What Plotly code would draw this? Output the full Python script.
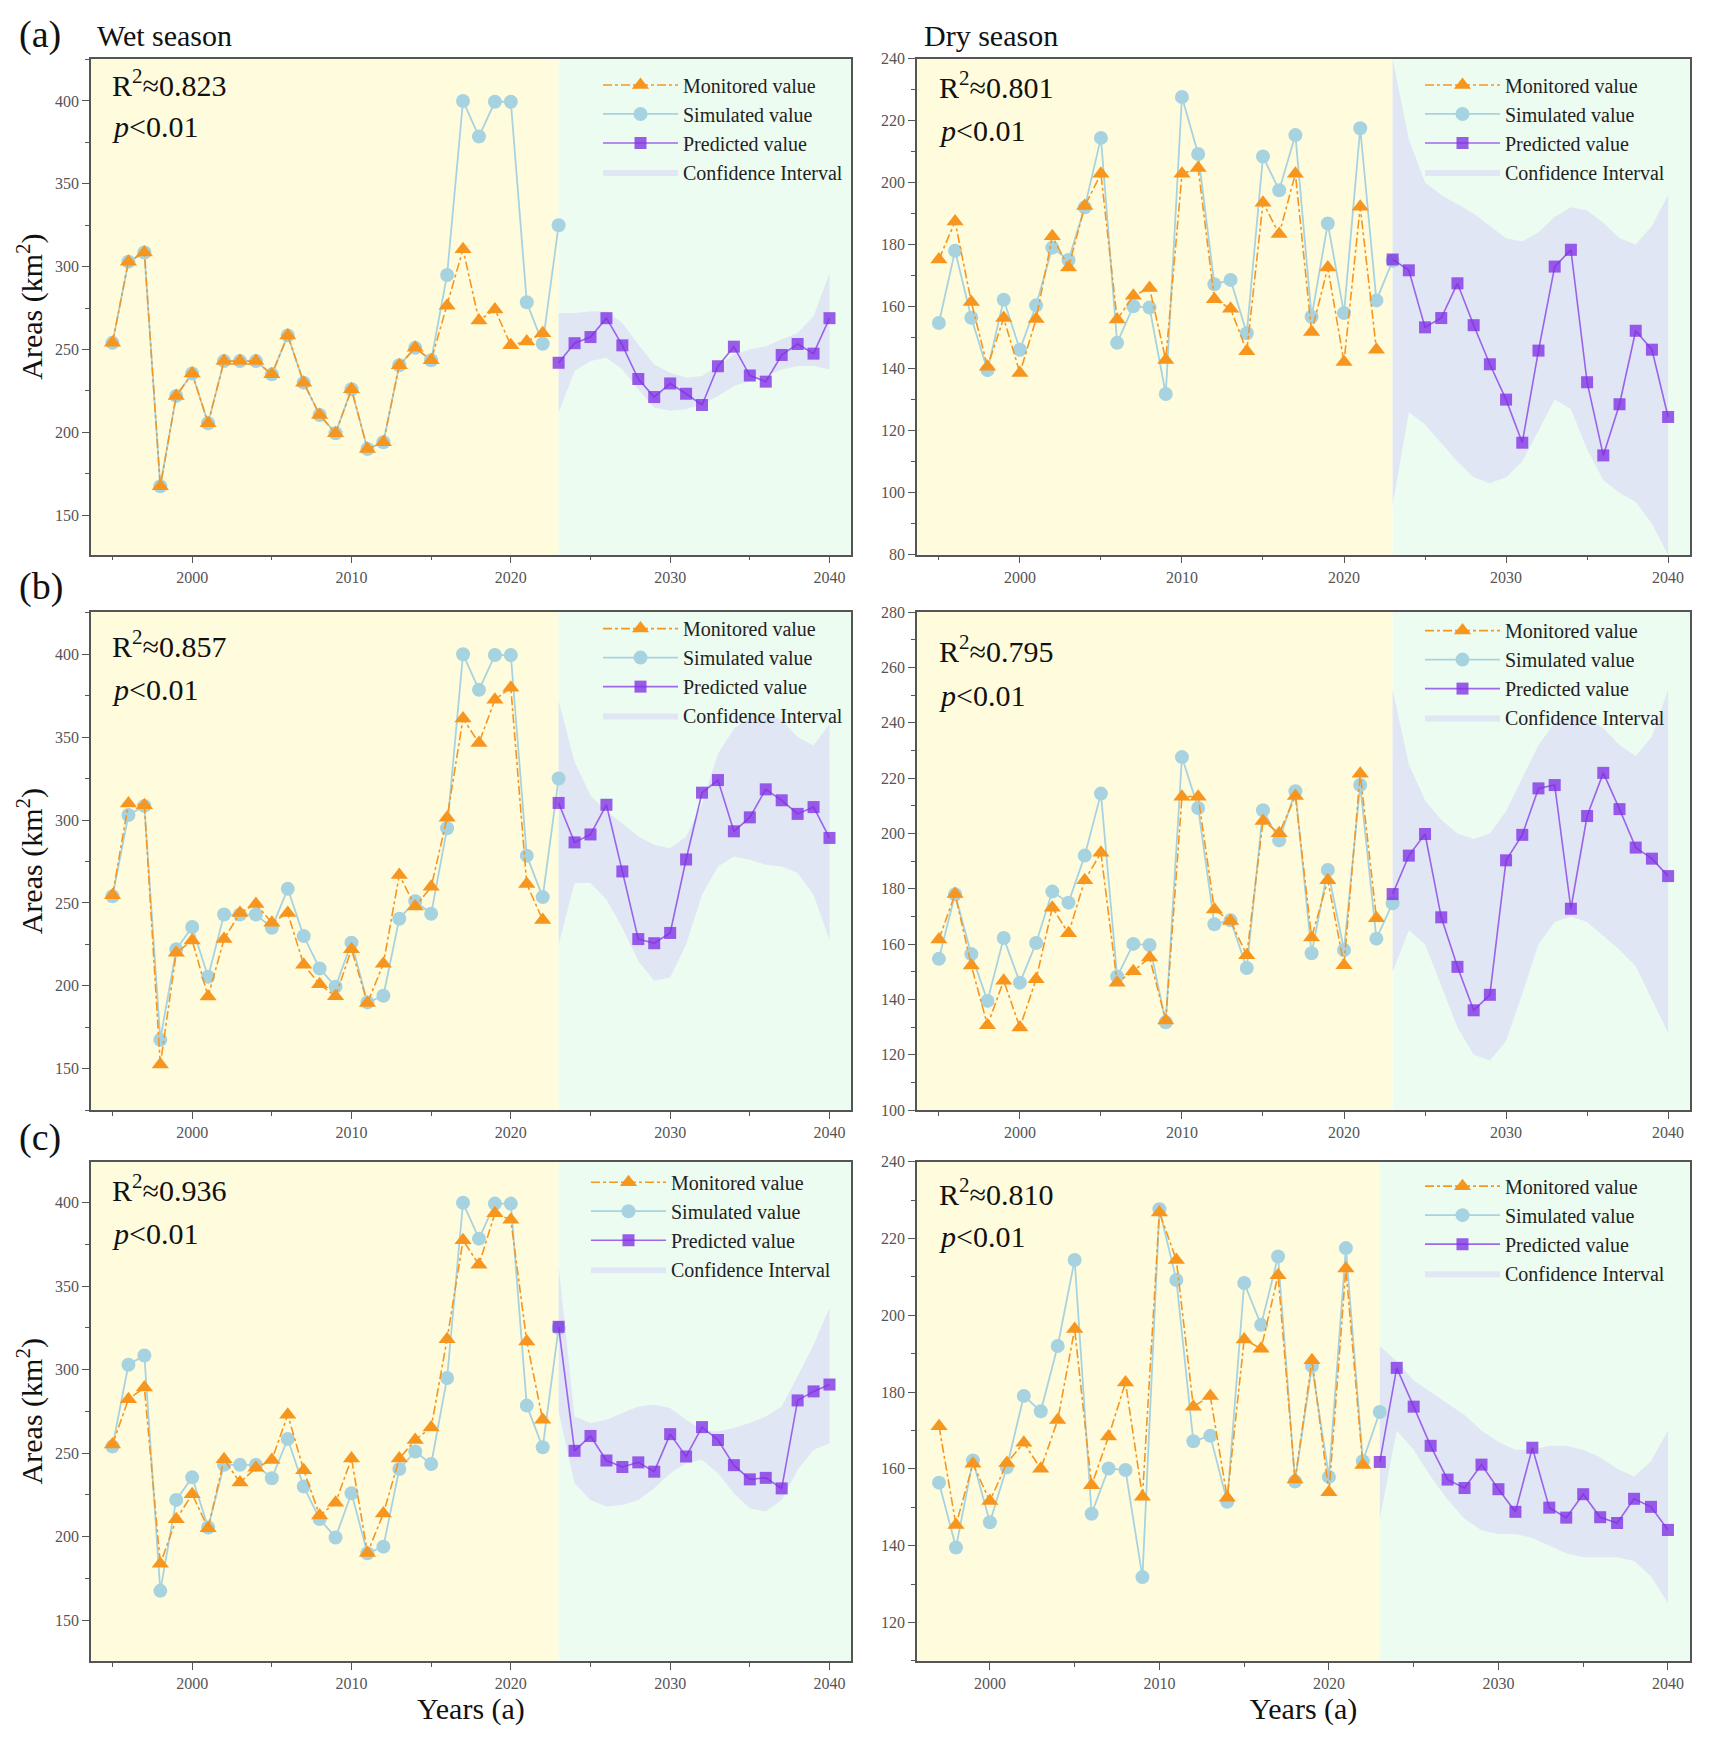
import plotly.graph_objects as go

W, H = 1711, 1753

# ---------------- data ----------------
years_hist = list(range(1995, 2024))          # simulated (1995-2023)
years_mon = list(range(1995, 2023))           # monitored (1995-2022)
years_pred = list(range(2023, 2041))          # predicted (2023-2040)
years_mon_c_dry = list(range(1997, 2023))
years_sim_c_dry = list(range(1997, 2024))

x_tick_vals = [2000, 2010, 2020, 2030, 2040]
x_tick_text = ["2000", "2010", "2020", "2030", "2040"]
wet_tick_vals = [150, 200, 250, 300, 350, 400]
dry_tick_vals_a = [80, 100, 120, 140, 160, 180, 200, 220, 240]
dry_tick_vals_b = [100, 120, 140, 160, 180, 200, 220, 240, 260, 280]
dry_tick_vals_c = [120, 140, 160, 180, 200, 220, 240]

wet_simulated = [254, 303, 308.5, 167.5, 222, 235.5, 205.5, 243, 243, 243, 235, 258.5, 230, 210.5,
                 199.5, 226, 190, 194, 240.5, 251, 243.5, 295, 400, 378.5, 399.5, 399.5, 278.5, 253.5, 325]
dry_simulated = [154.7, 178, 156.4, 139.5, 162.2, 146.1, 160.4, 179, 175, 192, 214.4, 148.3, 160.1, 159.7,
                 131.8, 227.6, 209.2, 167.2, 168.6, 151.4, 208.4, 197.5, 215.3, 156.7, 186.8, 157.9, 217.5, 162, 174.8]

wet_monitored_a = [254, 303, 308.5, 167.5, 222, 235.5, 205.5, 243, 243, 243, 235, 258.5, 230, 210.5,
                   199.5, 226, 190, 194, 240.5, 251, 243.5, 276.4, 310.5, 267.5, 274.2, 252.6, 254.9, 259.8]
wet_monitored_b = [254.6, 309.9, 308.9, 152.5, 219.9, 227.4, 193.5, 228.2, 243.9, 249.4, 238.1, 243.9, 212.7, 201,
                   193.7, 222, 189.6, 213.3, 266.9, 247.8, 259.7, 301.4, 361.2, 346.4, 372.6, 379.8, 261.4, 239.7]
wet_monitored_c = [255.2, 282.3, 289.3, 183.7, 210.4, 225.4, 205, 246.3, 232.4, 241.2, 245.9, 273, 239.8, 212.7,
                   220.3, 246.8, 190.2, 213.8, 246.8, 257.9, 265.4, 318.3, 377.5, 362.9, 393.7, 389.8, 316.9, 270]
dry_monitored_a = [175.2, 187.4, 161.5, 140.6, 156.3, 138.6, 156, 182.7, 172.6, 192.4, 202.8, 155.8, 163.5, 166,
                   142.8, 202.8, 204.7, 162.4, 159.3, 145.6, 193.5, 183.4, 202.8, 151.8, 172.6, 142.1, 192.2, 146.1]
dry_monitored_b = [161.7, 178.1, 152.3, 130.7, 146.8, 129.9, 147.3, 173.2, 163.9, 183.1, 193, 146.1, 150.2, 155.2,
                   132.4, 213.3, 213.3, 172.5, 168.4, 156, 204.5, 200.1, 213.5, 162.4, 183.1, 152.4, 221.6, 169.4]
dry_monitored_c = [171.1, 145.4, 161.3, 151.6, 161.5, 166.8, 160, 172.7, 196.4, 155.7, 168.4, 182.5, 152.7,
                   226.8, 214.4, 176.2, 179, 152.5, 193.7, 191.3, 210.4, 157.2, 188.3, 153.9, 212.2, 161]

wet_predicted_a = [242, 253.8, 257.5, 268.9, 252.5, 232.2, 221.3, 229.5, 223.3, 216.5, 239.9, 251.7, 234.3,
                   230.6, 246.7, 253.3, 247.5, 268.9]
wet_predicted_b = [310.3, 286.5, 291.3, 309.2, 269, 228.2, 225.7, 231.9, 276.2, 316.5, 324.1, 293.2, 301.6,
                   318.5, 311.9, 303.7, 307.8, 289.2]
wet_predicted_c = [325.7, 251.4, 260.3, 245.6, 241.7, 244.5, 238.9, 261.4, 248, 265.6, 257.9, 242.8, 234.3,
                   235.2, 228.9, 281.6, 287, 291.1]
dry_predicted_a = [175.2, 171.7, 153.3, 156.3, 167.5, 154, 141.4, 130, 116.1, 145.8, 172.9, 178.3, 135.6,
                   112, 128.5, 152.2, 146.1, 124.4]
dry_predicted_b = [178.1, 192, 199.8, 169.7, 151.8, 136.1, 141.7, 190.3, 199.5, 216.3, 217.5, 172.8, 206.3,
                   221.9, 208.8, 194.9, 190.9, 184.6]
dry_predicted_c = [161.8, 186.3, 176.2, 166, 157.2, 155, 161.1, 154.7, 148.8, 165.5, 149.9, 147.3, 153.4,
                   147.4, 145.9, 152.2, 150.1, 144.1]

wet_ci_upper_a = [272, 272, 273, 273, 266, 253, 241, 236, 233, 234, 240, 247, 250, 252, 256, 260, 270, 296]
wet_ci_lower_a = [212, 237, 243, 245, 238, 226, 215, 213, 214, 217, 222, 228, 231, 234, 238, 240, 240, 238]
wet_ci_upper_b = [372, 335, 315, 305, 298, 290, 285, 283, 290, 310, 340, 355, 362, 365, 360, 350, 345, 358]
wet_ci_lower_b = [225, 262, 262, 252, 235, 215, 203, 205, 225, 255, 272, 278, 276, 273, 272, 268, 255, 228]
wet_ci_upper_c = [362, 272, 268, 270, 274, 278, 279, 277, 270, 264, 263, 265, 268, 272, 278, 296, 315, 337]
wet_ci_lower_c = [275, 232, 222, 218, 219, 222, 229, 238, 244, 246, 238, 226, 217, 215, 222, 240, 252, 256]
dry_ci_upper_a = [240, 214, 200, 196, 193, 190, 186, 182, 181, 184, 189, 192, 191, 187, 182, 180, 186, 196]
dry_ci_lower_a = [96, 126, 122, 116, 110, 105, 103, 105, 110, 120, 130, 127, 114, 104, 100, 97, 90, 80]
dry_ci_upper_b = [252, 225, 212, 205, 200, 198, 200, 208, 220, 232, 240, 242, 242, 238, 232, 228, 235, 252]
dry_ci_lower_b = [150, 165, 160, 145, 130, 120, 118, 125, 142, 160, 168, 170, 168, 163, 158, 152, 140, 128]
dry_ci_upper_c = [192, 188, 183, 180, 177, 174, 170, 167, 165, 165, 166, 166, 165, 163, 160, 158, 162, 170]
dry_ci_lower_c = [147, 170, 165, 158, 152, 147, 144, 143, 143, 142, 140, 138, 137, 137, 137, 136, 132, 125]

r2_labels = ["0.823", "0.801", "0.857", "0.795", "0.936", "0.810"]
series_names = ["Monitored value", "Simulated value", "Predicted value", "Confidence Interval"]

# ---------------- panel setup ----------------
panels = [
    dict(sim_x=years_hist, sim=wet_simulated, mon_x=years_mon, mon=wet_monitored_a,
         pred=wet_predicted_a, up=wet_ci_upper_a, lo=wet_ci_lower_a, yt=wet_tick_vals, ydt=25),
    dict(sim_x=years_hist, sim=dry_simulated, mon_x=years_mon, mon=dry_monitored_a,
         pred=dry_predicted_a, up=dry_ci_upper_a, lo=dry_ci_lower_a, yt=dry_tick_vals_a, ydt=10),
    dict(sim_x=years_hist, sim=wet_simulated, mon_x=years_mon, mon=wet_monitored_b,
         pred=wet_predicted_b, up=wet_ci_upper_b, lo=wet_ci_lower_b, yt=wet_tick_vals, ydt=25),
    dict(sim_x=years_hist, sim=dry_simulated, mon_x=years_mon, mon=dry_monitored_b,
         pred=dry_predicted_b, up=dry_ci_upper_b, lo=dry_ci_lower_b, yt=dry_tick_vals_b, ydt=10),
    dict(sim_x=years_hist, sim=wet_simulated, mon_x=years_mon, mon=wet_monitored_c,
         pred=wet_predicted_c, up=wet_ci_upper_c, lo=wet_ci_lower_c, yt=wet_tick_vals, ydt=25),
    dict(sim_x=years_sim_c_dry, sim=dry_simulated[2:], mon_x=years_mon_c_dry, mon=dry_monitored_c,
         pred=dry_predicted_c, up=dry_ci_upper_c, lo=dry_ci_lower_c, yt=dry_tick_vals_c, ydt=10),
]

# layout geometry (pixels)
col_px = [(91, 851), (917, 1690)]
row_px = [(51, 552), (610, 1113), (1165, 1669)]
x_ranges = [[1993.65, 2041.35], [1993.65, 2041.35], [1993.65, 2041.35],
            [1993.65, 2041.35], [1993.65, 2041.35], [1995.7, 2041.3]]
y_ranges = [[126.2, 425.6], [80, 240], [125, 425.4], [100, 280], [125.6, 424.6], [110, 240]]
legend_px = [(598, 58), (1420, 58), (598, 607), (1420, 609), (586, 1166), (1420, 1170)]
r2_px = [(110, 76), (937, 78), (110, 642), (937, 647), (110, 1192), (937, 1196)]
p_px = [(110, 120), (937, 124), (110, 688), (937, 694), (110, 1237), (937, 1241)]

YELLOW = "#FFFCDD"
GREEN = "#EDFCF1"
ORANGE = "#F7961F"
LBLUE = "#A7D3E1"
PURPLE_M = "rgba(128,48,228,0.78)"
PURPLE_L = "rgba(128,48,228,0.72)"
CI_FILL = "rgba(208,206,246,0.48)"
AXC = "#555555"
SERIF = "Liberation Serif"

fig = go.Figure()
layout = dict(width=W, height=H, margin=dict(l=0, r=0, t=0, b=0),
              paper_bgcolor="white", plot_bgcolor="white", showlegend=True)
shapes, annotations = [], []

for i, p in enumerate(panels):
    r, c = divmod(i, 2)
    sfx = "" if i == 0 else str(i + 1)
    xa, ya = "x" + sfx, "y" + sfx
    leg = "legend" + sfx
    xd = [col_px[c][0] / W, col_px[c][1] / W]
    yd = [1 - row_px[r][1] / H, 1 - row_px[r][0] / H]

    fig.add_trace(go.Scatter(
        x=years_pred + years_pred[::-1], y=p["up"] + p["lo"][::-1],
        fill="toself", fillcolor=CI_FILL, line=dict(width=0), mode="lines",
        name=series_names[3], legend=leg, legendrank=4, legendgroup="ci%d" % i,
        hoverinfo="skip", xaxis=xa, yaxis=ya))
    fig.add_trace(go.Scatter(
        x=p["sim_x"], y=p["sim"], mode="lines+markers",
        line=dict(color=LBLUE, width=1.8),
        marker=dict(symbol="circle", size=14, color=LBLUE),
        name=series_names[1], legend=leg, legendrank=2, legendgroup="sim%d" % i,
        xaxis=xa, yaxis=ya))
    fig.add_trace(go.Scatter(
        x=p["mon_x"], y=p["mon"], mode="lines+markers",
        line=dict(color=ORANGE, width=1.6, dash="dashdot"),
        marker=dict(symbol="triangle-up", size=15, color=ORANGE),
        name=series_names[0], legend=leg, legendrank=1, legendgroup="mon%d" % i,
        xaxis=xa, yaxis=ya))
    fig.add_trace(go.Scatter(
        x=years_pred, y=p["pred"], mode="lines+markers",
        line=dict(color=PURPLE_L, width=1.6),
        marker=dict(symbol="square", size=12, color=PURPLE_M),
        name=series_names[2], legend=leg, legendrank=3, legendgroup="pred%d" % i,
        xaxis=xa, yaxis=ya))

    xaxis = dict(domain=xd, range=x_ranges[i], anchor=ya,
                 tickmode="array", tickvals=x_tick_vals, ticktext=x_tick_text,
                 ticks="outside", ticklen=7, tickwidth=1.3, tickcolor=AXC,
                 minor=dict(tickmode="linear", tick0=1995, dtick=5, ticks="outside",
                            ticklen=4, tickwidth=1.2, tickcolor=AXC),
                 showline=True, linecolor=AXC, linewidth=1.6, mirror=True,
                 showgrid=False, zeroline=False,
                 tickfont=dict(family=SERIF, size=16, color="#555"))
    if r == 2:
        xaxis["title"] = dict(text="Years (a)", font=dict(family=SERIF, size=30, color="#111"), standoff=5)
    yaxis = dict(domain=yd, range=y_ranges[i], anchor=xa,
                 tickmode="array", tickvals=p["yt"], ticktext=[str(v) for v in p["yt"]],
                 ticks="outside", ticklen=7, tickwidth=1.3, tickcolor=AXC,
                 minor=dict(tickmode="linear", tick0=p["yt"][0], dtick=p["ydt"], ticks="outside",
                            ticklen=4, tickwidth=1.2, tickcolor=AXC),
                 showline=True, linecolor=AXC, linewidth=1.6, mirror=True,
                 showgrid=False, zeroline=False,
                 tickfont=dict(family=SERIF, size=16, color="#555"))
    if c == 0:
        yaxis["title"] = dict(text="Areas (km<sup>2</sup>)", font=dict(family=SERIF, size=30, color="#111"),
                              standoff=3)
    layout["xaxis" + sfx] = xaxis
    layout["yaxis" + sfx] = yaxis

    layout[leg] = dict(x=legend_px[i][0] / W, y=1 - legend_px[i][1] / H, xanchor="left", yanchor="top",
                       bgcolor="rgba(0,0,0,0)", borderwidth=0, itemwidth=75, tracegroupgap=3,
                       itemsizing="trace",
                       font=dict(family=SERIF, size=20, color="#222"), traceorder="normal")

    shapes.append(dict(type="rect", xref=xa, yref=ya + " domain", x0=x_ranges[i][0], x1=2023, y0=0, y1=1,
                       fillcolor=YELLOW, line=dict(width=0), layer="below"))
    shapes.append(dict(type="rect", xref=xa, yref=ya + " domain", x0=2023, x1=x_ranges[i][1], y0=0, y1=1,
                       fillcolor=GREEN, line=dict(width=0), layer="below"))

    annotations.append(dict(text="R<sup>2</sup>≈" + r2_labels[i], xref="paper", yref="paper",
                            x=r2_px[i][0] / W, y=1 - r2_px[i][1] / H, xanchor="left", yanchor="middle",
                            showarrow=False, font=dict(family=SERIF, size=30, color="#111")))
    annotations.append(dict(text="<i>p</i>&lt;0.01", xref="paper", yref="paper",
                            x=p_px[i][0] / W, y=1 - p_px[i][1] / H, xanchor="left", yanchor="middle",
                            showarrow=False, font=dict(family=SERIF, size=30, color="#111")))

panel_labels = [("(a)", 17, 27), ("(b)", 17, 584), ("(c)", 17, 1141)]
for txt, px, py in panel_labels:
    annotations.append(dict(text=txt, xref="paper", yref="paper", x=px / W, y=1 - py / H,
                            xanchor="left", yanchor="middle", showarrow=False,
                            font=dict(family=SERIF, size=38, color="#111")))
season_labels = [("Wet season", 95, 28), ("Dry season", 922, 28)]
for txt, px, py in season_labels:
    annotations.append(dict(text=txt, xref="paper", yref="paper", x=px / W, y=1 - py / H,
                            xanchor="left", yanchor="middle", showarrow=False,
                            font=dict(family=SERIF, size=30, color="#111")))

layout["shapes"] = shapes
layout["annotations"] = annotations
fig.update_layout(**layout)
fig.write_html("out.html")
